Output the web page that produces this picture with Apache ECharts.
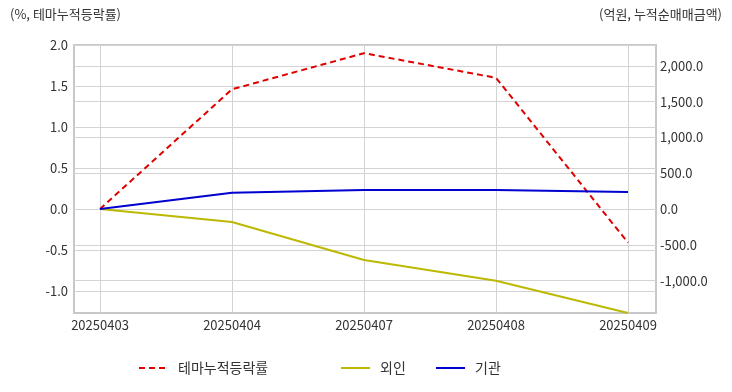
<!DOCTYPE html>
<html><head><meta charset="utf-8">
<script src="https://cdn.jsdelivr.net/npm/echarts@6/dist/echarts.min.js"></script>
<style>html,body{margin:0;padding:0;background:#fff}#c{width:732px;height:392px}</style>
</head><body><div id="c"></div>
<script>
const categories = ['20250403','20250404','20250407','20250408','20250409'];
const themeRate = [0, 1.46, 1.90, 1.60, -0.41];
const foreign = [0, -182, -712, -1001, -1452];
const institution = [0, 228, 265, 265, 237];
const leftTicks = [-1.0, 2.0, 0.5];   // first, last, step
const rightTicks = [-1000, 2000, 500];
const leftName = '(%, 테마누적등락률)';
const rightName = '(억원, 누적순매매금액)';
const seriesNames = ['테마누적등락률','외인','기관'];

const FONT = 'Noto Sans CJK KR';
const LMIN = -1.268, LMAX = 2.0, RMIN = -1452, RMAX = 2290;
const txt = '#333';
const gridColor = '#d3d3d3';
const H = 392, TOP = 45, BOTTOM = 313;
const PH = BOTTOM - TOP;

// label grids: positioned so that their ranges coincide with the data axes
function subGrid(min, max, a, b){
  const y = v => TOP + (max - v) / (max - min) * PH;
  return {top: y(b), bottom: H - y(a)};
}
const lg = subGrid(LMIN, LMAX, leftTicks[0], leftTicks[1]);
const rg = subGrid(RMIN, RMAX, rightTicks[0], rightTicks[1]);

const chart = echarts.init(document.getElementById('c'));
const fmtR = v => v.toLocaleString('en-US',{minimumFractionDigits:1,maximumFractionDigits:1});
const fmtL = v => v.toFixed(1);
const hidden = {axisLabel:{show:false},axisLine:{show:false},axisTick:{show:false},splitLine:{show:false}};
const legendBase = {top:361,padding:0,itemWidth:29,itemHeight:10,itemStyle:{opacity:0},
  textStyle:{color:txt,fontSize:14,fontFamily:FONT,padding:[0,0,0,5]}};
chart.setOption({
  animation:false,
  textStyle:{fontFamily:FONT},
  grid:[
    {left:74,right:76,top:TOP,bottom:H-BOTTOM,show:true,borderColor:'#c8c8c8',borderWidth:2,backgroundColor:'transparent'},
    {left:100,right:104,top:TOP,bottom:H-BOTTOM},
    {left:74,right:76,top:lg.top,bottom:lg.bottom},
    {left:74,right:76,top:rg.top,bottom:rg.bottom}
  ],
  xAxis:[
    {gridIndex:0,type:'value',min:0,max:1,show:false},
    {gridIndex:1,type:'category',data:categories,boundaryGap:false,
     axisLine:{show:false},axisTick:{show:false},
     axisLabel:{color:txt,fontSize:13,margin:6,fontFamily:FONT},
     splitLine:{show:true,lineStyle:{color:gridColor,width:1}}},
    {gridIndex:2,type:'value',min:0,max:1,show:false},
    {gridIndex:3,type:'value',min:0,max:1,show:false}
  ],
  yAxis:[
    Object.assign({gridIndex:1,type:'value',min:LMIN,max:LMAX}, hidden),
    Object.assign({gridIndex:1,type:'value',position:'right',min:RMIN,max:RMAX}, hidden),
    {gridIndex:2,type:'value',min:leftTicks[0],max:leftTicks[1],interval:leftTicks[2],
     axisLine:{show:false},axisTick:{show:false},
     splitLine:{show:true,lineStyle:{color:gridColor,width:1}},
     axisLabel:{color:txt,fontSize:13,margin:6,formatter:fmtL,fontFamily:FONT}},
    {gridIndex:3,type:'value',position:'right',min:rightTicks[0],max:rightTicks[1],interval:rightTicks[2],
     axisLine:{show:false},axisTick:{show:false},
     splitLine:{show:true,lineStyle:{color:gridColor,width:1}},
     axisLabel:{color:txt,fontSize:13,margin:4,formatter:fmtR,fontFamily:FONT}}
  ],
  legend:[
    Object.assign({data:[seriesNames[0]],left:138}, legendBase),
    Object.assign({data:[seriesNames[1]],left:340}, legendBase),
    Object.assign({data:[seriesNames[2]],left:435}, legendBase)
  ],
  graphic:[
    {type:'text',left:10,top:8,style:{text:leftName,fill:txt,font:'13px "'+FONT+'"'}},
    {type:'text',right:10,top:8,style:{text:rightName,fill:txt,font:'13px "'+FONT+'"'}}
  ],
  series:[
    {name:seriesNames[0],type:'line',xAxisIndex:1,yAxisIndex:0,data:themeRate,symbol:'none',
     lineStyle:{color:'#e00000',width:2,type:[6,4]},itemStyle:{color:'#e00000'}},
    {name:seriesNames[1],type:'line',xAxisIndex:1,yAxisIndex:1,data:foreign,symbol:'none',
     lineStyle:{color:'#bdb800',width:2},itemStyle:{color:'#bdb800'}},
    {name:seriesNames[2],type:'line',xAxisIndex:1,yAxisIndex:1,data:institution,symbol:'none',
     lineStyle:{color:'#0000d0',width:2},itemStyle:{color:'#0000d0'}}
  ]
});
</script></body></html>
